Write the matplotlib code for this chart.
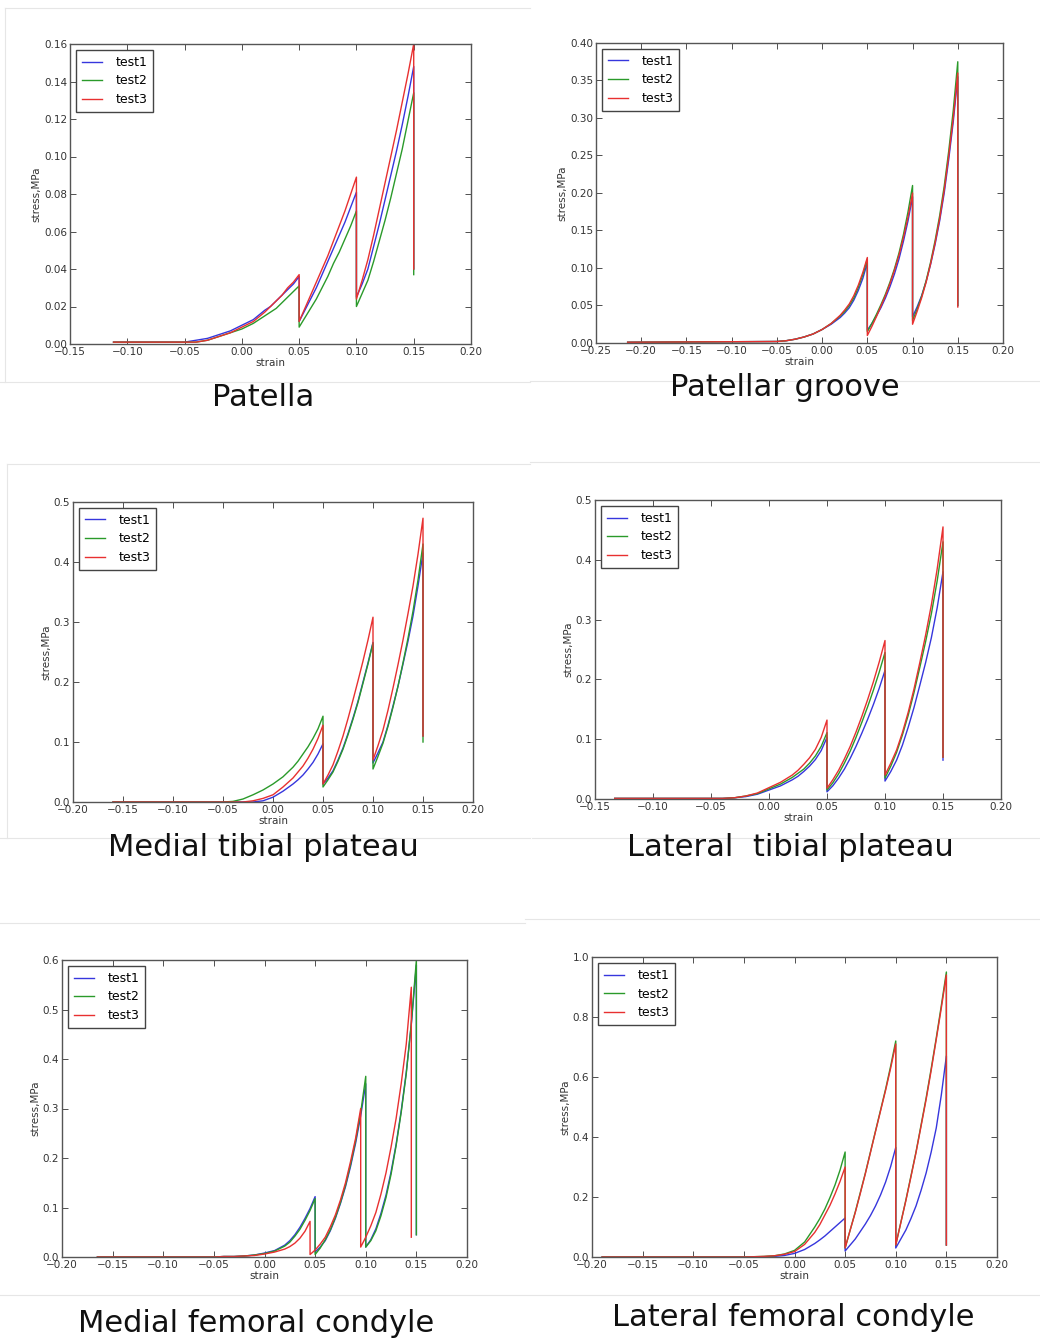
import numpy as np
import matplotlib
matplotlib.use("Agg")
import matplotlib.pyplot as plt
from matplotlib.lines import Line2D

W, H = 1040, 1341

# strain grid shared by most curves (a repeated x = sudden stress drop)
STRAIN_TAIL = [-0.05, -0.04, -0.03, -0.02, -0.01, 0.00, 0.01, 0.02, 0.025, 0.03, 0.035, 0.04, 0.045, 0.05,
               0.05, 0.055, 0.06, 0.065, 0.07, 0.075, 0.08, 0.085, 0.09, 0.095, 0.10,
               0.10, 0.105, 0.11, 0.115, 0.12, 0.125, 0.13, 0.135, 0.14, 0.145, 0.15,
               0.15]

# Patella
PAT_START = -0.112
PAT_T1 = [0.001, 0.001, 0.002, 0.003, 0.005, 0.007, 0.010, 0.013, 0.018, 0.020, 0.023, 0.026, 0.029, 0.032, 0.036,
          0.012, 0.018, 0.024, 0.030, 0.037, 0.044, 0.051, 0.058, 0.065, 0.073, 0.081,
          0.025, 0.032, 0.040, 0.052, 0.064, 0.077, 0.090, 0.103, 0.117, 0.132, 0.148,
          0.040]
PAT_T2 = [0.001, 0.001, 0.001, 0.002, 0.004, 0.006, 0.008, 0.011, 0.015, 0.017, 0.019, 0.022, 0.025, 0.028, 0.031,
          0.009, 0.014, 0.019, 0.024, 0.030, 0.036, 0.043, 0.049, 0.056, 0.063, 0.071,
          0.020, 0.027, 0.034, 0.044, 0.055, 0.066, 0.078, 0.091, 0.104, 0.119, 0.134,
          0.037]
PAT_T3 = [0.001, 0.001, 0.001, 0.002, 0.004, 0.006, 0.009, 0.012, 0.017, 0.020, 0.023, 0.026, 0.030, 0.033, 0.037,
          0.012, 0.019, 0.026, 0.033, 0.040, 0.047, 0.055, 0.063, 0.071, 0.080, 0.089,
          0.024, 0.034, 0.045, 0.058, 0.072, 0.086, 0.100, 0.114, 0.129, 0.144, 0.160,
          0.040]

# Patellar groove
PG_START = -0.215
PG_T1 = [0.001, 0.002, 0.003, 0.005, 0.008, 0.012, 0.018, 0.025, 0.034, 0.040, 0.047, 0.057, 0.070, 0.086, 0.107,
         0.017, 0.026, 0.036, 0.047, 0.060, 0.075, 0.092, 0.112, 0.136, 0.163, 0.195,
         0.035, 0.048, 0.063, 0.082, 0.105, 0.132, 0.163, 0.200, 0.245, 0.295, 0.355,
         0.050]
PG_T2 = [0.001, 0.002, 0.003, 0.005, 0.008, 0.012, 0.018, 0.026, 0.036, 0.042, 0.050, 0.060, 0.074, 0.091, 0.112,
         0.015, 0.026, 0.038, 0.051, 0.065, 0.081, 0.099, 0.120, 0.145, 0.175, 0.210,
         0.030, 0.045, 0.062, 0.083, 0.108, 0.137, 0.170, 0.209, 0.256, 0.310, 0.375,
         0.050]
PG_T3 = [0.001, 0.002, 0.003, 0.005, 0.008, 0.012, 0.018, 0.026, 0.037, 0.044, 0.052, 0.063, 0.077, 0.094, 0.114,
         0.010, 0.022, 0.035, 0.049, 0.063, 0.079, 0.097, 0.117, 0.141, 0.168, 0.200,
         0.025, 0.042, 0.060, 0.081, 0.106, 0.134, 0.166, 0.204, 0.250, 0.300, 0.360,
         0.048]

# Medial tibial plateau
MTP_START = -0.16
MTP_T1 = [0.0, 0.0, 0.0, 0.0, 0.0, 0.002, 0.008, 0.018, 0.030, 0.037, 0.045, 0.055, 0.066, 0.080, 0.097,
          0.030, 0.040, 0.052, 0.070, 0.090, 0.114, 0.140, 0.168, 0.200, 0.232, 0.266,
          0.065, 0.082, 0.100, 0.128, 0.160, 0.193, 0.230, 0.268, 0.310, 0.360, 0.415,
          0.110]
MTP_T2 = [0.0, 0.0, 0.001, 0.005, 0.012, 0.020, 0.030, 0.042, 0.058, 0.068, 0.080, 0.092, 0.106, 0.122, 0.143,
          0.025, 0.037, 0.050, 0.068, 0.088, 0.112, 0.138, 0.166, 0.198, 0.230, 0.265,
          0.055, 0.076, 0.098, 0.126, 0.158, 0.193, 0.232, 0.273, 0.318, 0.370, 0.430,
          0.100]
MTP_T3 = [0.0, 0.0, 0.0, 0.0, 0.002, 0.006, 0.012, 0.025, 0.040, 0.050, 0.060, 0.073, 0.088, 0.106, 0.128,
          0.030, 0.045, 0.062, 0.085, 0.110, 0.139, 0.170, 0.202, 0.235, 0.270, 0.308,
          0.070, 0.094, 0.120, 0.153, 0.190, 0.229, 0.270, 0.314, 0.360, 0.413, 0.473,
          0.110]

# Lateral tibial plateau
LTP_START = -0.133
LTP_T1 = [0.001, 0.001, 0.001, 0.002, 0.004, 0.008, 0.015, 0.022, 0.032, 0.038, 0.046, 0.055, 0.066, 0.081, 0.103,
          0.012, 0.022, 0.035, 0.050, 0.068, 0.088, 0.110, 0.133, 0.158, 0.185, 0.215,
          0.030, 0.046, 0.065, 0.090, 0.120, 0.153, 0.190, 0.228, 0.270, 0.320, 0.380,
          0.065]
LTP_T2 = [0.001, 0.001, 0.001, 0.002, 0.005, 0.009, 0.017, 0.025, 0.036, 0.043, 0.050, 0.060, 0.072, 0.088, 0.111,
          0.015, 0.027, 0.042, 0.060, 0.080, 0.103, 0.128, 0.154, 0.182, 0.212, 0.245,
          0.035, 0.055, 0.078, 0.107, 0.140, 0.178, 0.220, 0.263, 0.310, 0.365, 0.430,
          0.070]
LTP_T3 = [0.001, 0.001, 0.001, 0.002, 0.005, 0.010, 0.019, 0.028, 0.040, 0.048, 0.058, 0.069, 0.083, 0.103, 0.132,
          0.018, 0.032, 0.048, 0.067, 0.088, 0.112, 0.138, 0.166, 0.196, 0.229, 0.265,
          0.040, 0.060, 0.082, 0.111, 0.145, 0.184, 0.228, 0.274, 0.325, 0.385, 0.455,
          0.070]

# Medial femoral condyle (test3 unloads a little earlier)
MFC_START = -0.165
MFC_T1 = [0.0, 0.0, 0.001, 0.001, 0.002, 0.004, 0.008, 0.013, 0.024, 0.033, 0.045, 0.060, 0.078, 0.098, 0.122,
          0.010, 0.020, 0.033, 0.053, 0.078, 0.108, 0.142, 0.183, 0.230, 0.285, 0.350,
          0.020, 0.035, 0.057, 0.088, 0.125, 0.172, 0.228, 0.295, 0.373, 0.470, 0.590,
          0.045]
MFC_T2 = [0.0, 0.0, 0.001, 0.001, 0.002, 0.004, 0.007, 0.012, 0.022, 0.030, 0.042, 0.056, 0.074, 0.094, 0.118,
          0.005, 0.018, 0.035, 0.055, 0.080, 0.110, 0.145, 0.187, 0.235, 0.292, 0.365,
          0.020, 0.033, 0.053, 0.083, 0.120, 0.167, 0.225, 0.292, 0.370, 0.472, 0.600,
          0.045]
MFC_T3_STRAIN = [-0.05, -0.04, -0.03, -0.02, -0.01, 0.00, 0.01, 0.02, 0.025, 0.03, 0.035, 0.04, 0.045,
                 0.045, 0.05, 0.055, 0.06, 0.065, 0.07, 0.075, 0.08, 0.085, 0.09, 0.095,
                 0.095, 0.10, 0.105, 0.11, 0.115, 0.12, 0.125, 0.13, 0.135, 0.14, 0.145,
                 0.145]
MFC_T3 = [0.0, 0.0, 0.001, 0.001, 0.002, 0.003, 0.006, 0.010, 0.016, 0.021, 0.028, 0.038, 0.052, 0.072,
          0.005, 0.014, 0.026, 0.040, 0.061, 0.085, 0.115, 0.150, 0.193, 0.240, 0.300,
          0.020, 0.040, 0.063, 0.090, 0.127, 0.170, 0.222, 0.280, 0.350, 0.430, 0.545,
          0.040]

# Lateral femoral condyle
LFC_START = -0.19
LFC_T1 = [0.0, 0.0, 0.001, 0.001, 0.002, 0.005, 0.012, 0.025, 0.045, 0.057, 0.070, 0.085, 0.100, 0.115, 0.130,
          0.020, 0.040, 0.060, 0.085, 0.110, 0.138, 0.170, 0.207, 0.250, 0.302, 0.365,
          0.030, 0.060, 0.090, 0.128, 0.170, 0.222, 0.280, 0.350, 0.430, 0.540, 0.670,
          0.040]
LFC_T2 = [0.0, 0.0, 0.001, 0.002, 0.004, 0.010, 0.022, 0.050, 0.100, 0.128, 0.160, 0.198, 0.240, 0.290, 0.350,
          0.030, 0.090, 0.150, 0.215, 0.280, 0.350, 0.420, 0.490, 0.560, 0.637, 0.720,
          0.040, 0.115, 0.190, 0.270, 0.350, 0.440, 0.530, 0.628, 0.730, 0.838, 0.950,
          0.040]
LFC_T3 = [0.0, 0.0, 0.001, 0.002, 0.004, 0.009, 0.018, 0.042, 0.082, 0.108, 0.140, 0.172, 0.210, 0.252, 0.300,
          0.030, 0.090, 0.148, 0.212, 0.278, 0.348, 0.418, 0.487, 0.556, 0.630, 0.710,
          0.040, 0.114, 0.188, 0.267, 0.348, 0.436, 0.525, 0.622, 0.725, 0.830, 0.940,
          0.040]

TESTS = ["test1", "test2", "test3"]
COLORS = ["#3636dd", "#2a9a2a", "#e83030"]


def frac_rect(left, right, top, bottom):
    return [left / W, 1 - bottom / H, (right - left) / W, (bottom - top) / H]


def tick_fmt(fmt):
    return plt.FuncFormatter(lambda v, p: (fmt % (round(v, 3) + 0.0)).replace("-", "\u2212"))


def draw_panel(fig, box, curves, xlim, ylim, xstep, ystep, yfmt, caption, cap_xy):
    ax = fig.add_axes(frac_rect(*box))
    for (xs, ys), lab, col in zip(curves, TESTS, COLORS):
        ax.plot(xs, ys, color=col, lw=1.0, label=lab)
    ax.set_xlim(*xlim)
    ax.set_ylim(*ylim)
    ax.set_xticks(np.round(np.arange(xlim[0], xlim[1] + 1e-9, xstep), 3))
    ax.set_yticks(np.round(np.arange(ylim[0], ylim[1] + 1e-9, ystep), 3))
    ax.xaxis.set_major_formatter(tick_fmt("%.2f"))
    ax.yaxis.set_major_formatter(tick_fmt(yfmt))
    ax.tick_params(direction="in", top=True, right=True, length=4, width=0.6,
                   labelsize=7.5, pad=2, colors="#333333")
    for s in ax.spines.values():
        s.set_color("#555555")
        s.set_linewidth(1.0)
    ax.set_xlabel("strain", fontsize=7.5, color="#333333", labelpad=1)
    ax.set_ylabel("stress,MPa", fontsize=7.5, color="#333333", labelpad=2)
    leg = ax.legend(loc="upper left", fontsize=9, handlelength=1.6, handletextpad=1.1,
                    labelspacing=0.45, borderpad=0.45, fancybox=False, framealpha=1,
                    borderaxespad=0.5)
    leg.get_frame().set_edgecolor("#444444")
    leg.get_frame().set_linewidth(1.0)
    fig.text(cap_xy[0] / W, 1 - cap_xy[1] / H, caption, fontsize=22,
             ha="center", va="center", color="#111111")
    return ax


fig = plt.figure(figsize=(W / 100, H / 100), dpi=100)

# faint frame lines left over from the screenshots
GRAY = "#e6e6e6"
for x0, x1, y in [(5, 530, 8), (0, 530, 382), (530, 1040, 381), (7, 530, 464),
                  (530, 1040, 462), (0, 530, 838), (532, 1040, 838), (0, 525, 923),
                  (525, 1040, 919), (0, 1040, 1295)]:
    fig.add_artist(Line2D([x0 / W, x1 / W], [1 - y / H, 1 - y / H], color=GRAY, lw=0.8))
for x, y0, y1 in [(5, 8, 382), (7, 464, 838)]:
    fig.add_artist(Line2D([x / W, x / W], [1 - y0 / H, 1 - y1 / H], color=GRAY, lw=0.8))

draw_panel(fig, (70, 471, 44, 344),
           [([PAT_START] + STRAIN_TAIL, PAT_T1), ([PAT_START] + STRAIN_TAIL, PAT_T2),
            ([PAT_START] + STRAIN_TAIL, PAT_T3)],
           (-0.15, 0.20), (0, 0.16), 0.05, 0.02, "%.2f", "Patella", (263, 397))

draw_panel(fig, (596, 1003, 43, 343),
           [([PG_START] + STRAIN_TAIL, PG_T1), ([PG_START] + STRAIN_TAIL, PG_T2),
            ([PG_START] + STRAIN_TAIL, PG_T3)],
           (-0.25, 0.20), (0, 0.40), 0.05, 0.05, "%.2f", "Patellar groove", (785, 388))

draw_panel(fig, (73, 473, 502, 802),
           [([MTP_START] + STRAIN_TAIL, MTP_T1), ([MTP_START] + STRAIN_TAIL, MTP_T2),
            ([MTP_START] + STRAIN_TAIL, MTP_T3)],
           (-0.20, 0.20), (0, 0.5), 0.05, 0.1, "%.1f", "Medial tibial plateau", (263, 847))

draw_panel(fig, (595, 1001, 500, 799),
           [([LTP_START] + STRAIN_TAIL, LTP_T1), ([LTP_START] + STRAIN_TAIL, LTP_T2),
            ([LTP_START] + STRAIN_TAIL, LTP_T3)],
           (-0.15, 0.20), (0, 0.5), 0.05, 0.1, "%.1f", "Lateral  tibial plateau", (790, 847))

draw_panel(fig, (62, 467, 960, 1257),
           [([MFC_START] + STRAIN_TAIL, MFC_T1), ([MFC_START] + STRAIN_TAIL, MFC_T2),
            ([MFC_START] + MFC_T3_STRAIN, MFC_T3)],
           (-0.20, 0.20), (0, 0.6), 0.05, 0.1, "%.1f", "Medial femoral condyle", (256, 1323))

draw_panel(fig, (592, 997, 957, 1257),
           [([LFC_START] + STRAIN_TAIL, LFC_T1), ([LFC_START] + STRAIN_TAIL, LFC_T2),
            ([LFC_START] + STRAIN_TAIL, LFC_T3)],
           (-0.20, 0.20), (0, 1.0), 0.05, 0.2, "%.1f", "Lateral femoral condyle", (793, 1318))

fig.savefig("out.png", dpi=100)
